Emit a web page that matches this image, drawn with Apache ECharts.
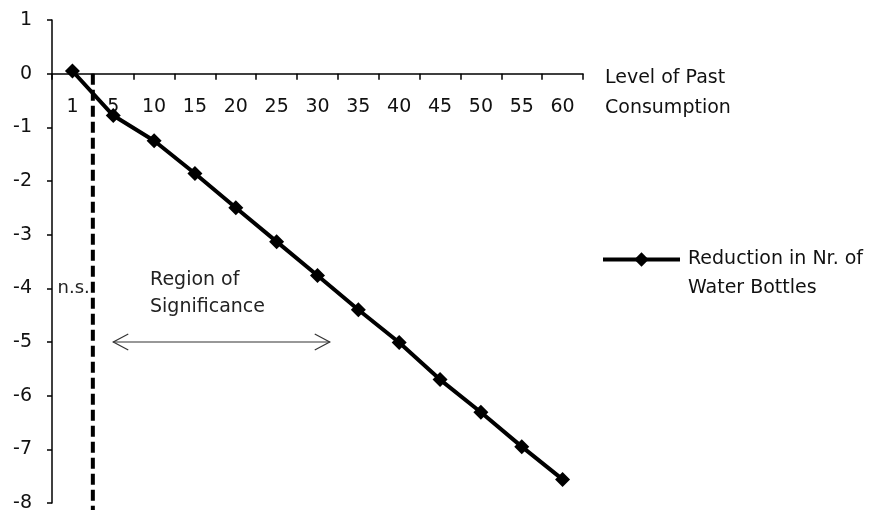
<!DOCTYPE html>
<html><head><meta charset="utf-8">
<script src="https://cdn.jsdelivr.net/npm/echarts@6/dist/echarts.min.js"></script>
<style>html,body{margin:0;padding:0;background:#fff}#c{width:880px;height:510px}</style>
</head><body><div id="c"></div>
<script>
var categories = ['1','5','10','15','20','25','30','35','40','45','50','55','60'];
var reduction = [0.05, -0.78, -1.25, -1.86, -2.5, -3.13, -3.76, -4.4, -5.01, -5.7, -6.31, -6.95, -7.56];
var seriesName = 'Reduction in Nr. of\nWater Bottles';
var xAxisName = 'Level of Past\nConsumption';
var nsBoundary = 0.5;          // category-index position of significance boundary
var arrowSpan = [1.0, 6.3];    // category-index range of "Region of Significance" arrow
var arrowY = -5;
var yMin = -8, yMax = 1;

var FONT = 'DejaVu Sans';
var FS = 19;
var H = 510, gridTop = 20, gridBottom = 7;
var plotH = H - gridTop - gridBottom;
var zeroOffset = -plotH * (0 - yMin) / (yMax - yMin);   // move x-axis up to y = 0

var chart = echarts.init(document.getElementById('c'));
var option = {
  animation: false,
  textStyle: {fontFamily: FONT},
  grid: {left: 52, right: 297, top: gridTop, bottom: gridBottom, containLabel: false, outerBoundsMode: 'none'},
  legend: {
    orient: 'vertical', left: 601, top: 216, padding: 0,
    itemWidth: 77, itemHeight: 18, itemGap: 5,
    data: [seriesName],
    formatter: function (n) { return '\n' + n; },
    lineStyle: {width: 4, color: '#000'},
    textStyle: {fontFamily: FONT, fontSize: FS, color: '#111', lineHeight: 29, padding: [0, 0, 0, 3]}
  },
  xAxis: [{
    type: 'category', data: categories, boundaryGap: true, position: 'bottom', offset: zeroOffset,
    axisLine: {onZero: false, lineStyle: {color: '#000', width: 1.5}},
    axisTick: {show: true, inside: false, length: 6, alignWithLabel: false, lineStyle: {color: '#000', width: 1.5}},
    axisLabel: {margin: 24, fontSize: FS, color: '#111', fontFamily: FONT},
    splitLine: {show: false}
  }, {
    // carries only the axis title, set a little below the axis line
    type: 'category', data: categories, boundaryGap: true, position: 'bottom', offset: zeroOffset + 19,
    axisLine: {show: false, onZero: false}, axisTick: {show: false}, axisLabel: {show: false}, splitLine: {show: false},
    name: xAxisName, nameLocation: 'end', nameGap: 22,
    nameTextStyle: {fontSize: FS, color: '#111', fontFamily: FONT, align: 'left', verticalAlign: 'middle', lineHeight: 30}
  }],
  yAxis: {
    type: 'value', min: yMin, max: yMax, interval: 1,
    axisLine: {show: true, onZero: false, lineStyle: {color: '#000', width: 1.5}},
    axisTick: {show: true, length: 5, lineStyle: {color: '#000', width: 1.5}},
    axisLabel: {margin: 20, fontSize: FS, color: '#111', fontFamily: FONT},
    splitLine: {show: false}
  },
  series: [{
    name: seriesName, type: 'line', data: reduction, xAxisIndex: 0,
    symbol: 'diamond', symbolSize: 15,
    lineStyle: {color: '#000', width: 4},
    itemStyle: {color: '#000'},
    z: 5
  }]
};
chart.setOption(option);

function px(i, y) {
  var lo = Math.floor(i), hi = Math.min(lo + 1, categories.length - 1), f = i - lo;
  var p0 = chart.convertToPixel({xAxisIndex: 0, yAxisIndex: 0}, [categories[lo], y]);
  var p1 = chart.convertToPixel({xAxisIndex: 0, yAxisIndex: 0}, [categories[hi], y]);
  return [p0[0] + (p1[0] - p0[0]) * f, p0[1]];
}
var d0 = px(nsBoundary, 0), d1 = px(nsBoundary, yMin);
var a0 = px(arrowSpan[0], arrowY), a1 = px(arrowSpan[1], arrowY);
var nsP = px(nsBoundary, -4);
var regP = px(arrowSpan[0] + 0.9, -4);
var head = 15, half = 8;
chart.setOption({
  graphic: [
    {type: 'line', z: 0, shape: {x1: d0[0], y1: d0[1], x2: d1[0], y2: d1[1] + 8}, style: {stroke: '#000', lineWidth: 4, lineDash: [11, 5]}},
    {type: 'line', shape: {x1: a0[0], y1: a0[1], x2: a1[0], y2: a1[1]}, style: {stroke: '#333', lineWidth: 1.2}},
    {type: 'polyline', shape: {points: [[a0[0] + head, a0[1] - half], [a0[0], a0[1]], [a0[0] + head, a0[1] + half]]}, style: {stroke: '#333', lineWidth: 1.2, fill: null}},
    {type: 'polyline', shape: {points: [[a1[0] - head, a1[1] - half], [a1[0], a1[1]], [a1[0] - head, a1[1] + half]]}, style: {stroke: '#333', lineWidth: 1.2, fill: null}},
    {type: 'text', x: nsP[0] - 3, y: nsP[1], style: {text: 'n.s.', font: '18px "' + FONT + '"', fill: '#222', textAlign: 'right', textVerticalAlign: 'middle'}},
    {type: 'text', x: regP[0], y: regP[1] - 22, style: {text: 'Region of\nSignificance', font: FS + 'px "' + FONT + '"', fill: '#222', textAlign: 'left', textVerticalAlign: 'top', lineHeight: 27}}
  ]
});
</script></body></html>
